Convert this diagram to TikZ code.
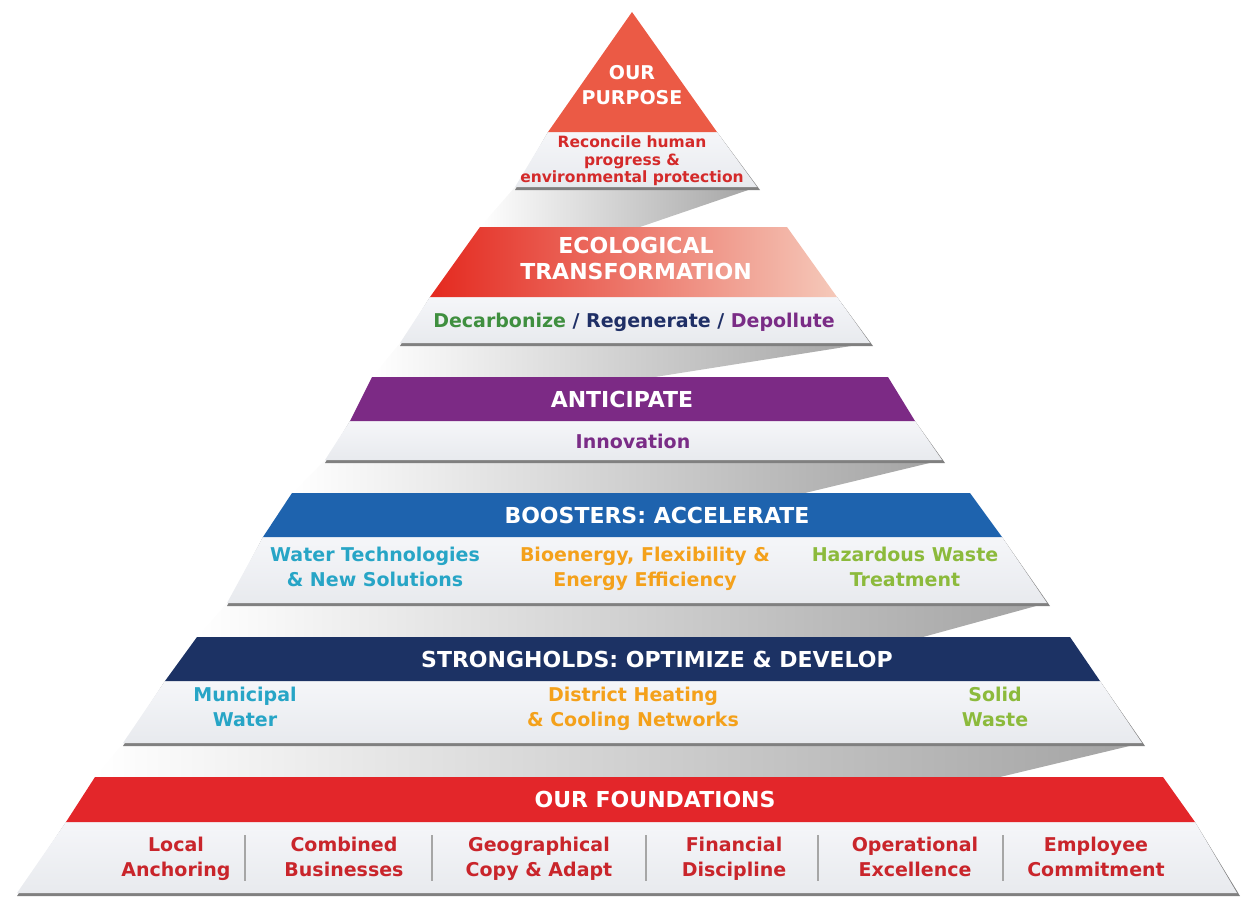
\documentclass[tikz,border=0pt]{standalone}
\usepackage{fontspec}
\setmainfont{DejaVu Sans}
\definecolor{purposered}{HTML}{EB5A45}
\definecolor{purposetext}{HTML}{D42A2A}
\definecolor{ecoleft}{HTML}{E4291F}
\definecolor{ecoright}{HTML}{F5C9BA}
\definecolor{anticipurple}{HTML}{7C2A85}
\definecolor{boostblue}{HTML}{1E63AE}
\definecolor{strongnavy}{HTML}{1C3264}
\definecolor{foundred}{HTML}{E3262A}
\definecolor{itemred}{HTML}{C9252B}
\definecolor{decgreen}{HTML}{3F8F3F}
\definecolor{regnavy}{HTML}{1F2F66}
\definecolor{deppurple}{HTML}{7A2C86}
\definecolor{watercyan}{HTML}{27A5C6}
\definecolor{energyorange}{HTML}{F4A11B}
\definecolor{wastegreen}{HTML}{8CBA3C}
\definecolor{platetop}{HTML}{F5F6F9}
\definecolor{platebot}{HTML}{E8EAEE}
\begin{document}
\begin{tikzpicture}[x=1pt,y=-1pt,
  plate/.style={top color=platetop,bottom color=platebot},
  shadow/.style={fill=black!50},
  ribbon/.style={left color=white,right color=black!36},
  sep/.style={draw=black!35,line width=1.2pt},
  head/.style={text=white,font=\bfseries\fontsize{22}{26}\selectfont,align=center,yshift=-3pt,
    execute at begin node=\strut,execute at end node=\strut},
  item/.style={text=#1,font=\bfseries\fontsize{19}{25}\selectfont,align=center,yshift=-3pt,
    execute at begin node=\strut,execute at end node=\strut}]
\useasboundingbox (0,0) rectangle (1242,899);
\shade[ribbon] (515,187)--(757,187)--(640,227)--(480,227)--cycle;
\shade[ribbon] (400,343)--(870,343)--(655,377)--(372,377)--cycle;
\shade[ribbon] (325,460)--(942,460)--(805,493)--(292,493)--cycle;
\shade[ribbon] (227,603)--(1047,603)--(923,637)--(197,637)--cycle;
\shade[ribbon] (123,743)--(1142,743)--(1000,777)--(95,777)--cycle;
\fill[shadow] (548,132)--(717,132)--(760,190)--(515,190)--cycle;
\shade[plate] (548,132)--(717,132)--(757,187)--(515,187)--cycle;
\fill[purposered] (632,12)--(717,132)--(548,132)--cycle;
\fill[shadow] (430,297)--(837,297)--(873,346)--(400,346)--cycle;
\shade[plate] (430,297)--(837,297)--(870,343)--(400,343)--cycle;
\shade[left color=ecoleft,right color=ecoright] (480,227)--(787,227)--(837,297)--(430,297)--cycle;
\fill[shadow] (350,421)--(915,421)--(945,463)--(325,463)--cycle;
\shade[plate] (350,421)--(915,421)--(942,460)--(325,460)--cycle;
\fill[anticipurple] (372,377)--(888,377)--(915,421)--(350,421)--cycle;
\fill[shadow] (263,537)--(1002,537)--(1050,606)--(227,606)--cycle;
\shade[plate] (263,537)--(1002,537)--(1047,603)--(227,603)--cycle;
\fill[boostblue] (292,493)--(970,493)--(1002,537)--(263,537)--cycle;
\fill[shadow] (165,681)--(1100,681)--(1145,746)--(123,746)--cycle;
\shade[plate] (165,681)--(1100,681)--(1142,743)--(123,743)--cycle;
\fill[strongnavy] (197,637)--(1070,637)--(1100,681)--(165,681)--cycle;
\fill[shadow] (66,822)--(1195,822)--(1240,896)--(17,896)--cycle;
\shade[plate] (66,822)--(1195,822)--(1237,893)--(17,893)--cycle;
\fill[foundred] (95,777)--(1163,777)--(1195,822)--(66,822)--cycle;
\node[head,font=\bfseries\fontsize{19}{25}\selectfont] (purposeTitle) at (632,86) {OUR\\PURPOSE};
\node[text=purposetext,font=\bfseries\fontsize{15.5}{17.5}\selectfont,align=center] (purposeText) at (632,161)
  {Reconcile human\\progress \&\\environmental protection};
\node[head] (ecoTitle) at (636,259) {ECOLOGICAL\\TRANSFORMATION};
\node[item=regnavy] (ecoText) at (634,319)
  {\textcolor{decgreen}{Decarbonize} / Regenerate / \textcolor{deppurple}{Depollute}};
\node[head] (anticipateTitle) at (622,399) {ANTICIPATE};
\node[item=deppurple] (innovText) at (633,440) {Innovation};
\node[head] (boostTitle) at (657,515) {BOOSTERS: ACCELERATE};
\node[item=watercyan] (waterTech) at (375,568) {Water Technologies\\\& New Solutions};
\node[item=energyorange] (bioEnergy) at (645,568) {Bioenergy, Flexibility \&\\Energy Efficiency};
\node[item=wastegreen] (hazWaste) at (905,568) {Hazardous Waste\\Treatment};
\node[head] (strongTitle) at (657,659) {STRONGHOLDS: OPTIMIZE \& DEVELOP};
\node[item=watercyan] (municipal) at (245,708) {Municipal\\Water};
\node[item=energyorange] (districtHeat) at (633,708) {District Heating\\\& Cooling Networks};
\node[item=wastegreen] (solidWaste) at (995,708) {Solid\\Waste};
\node[head] (foundTitle) at (655,799) {OUR FOUNDATIONS};
\node[item=itemred] (localAnch) at (176,858) {Local\\Anchoring};
\node[item=itemred] (combinedBus) at (344,858) {Combined\\Businesses};
\node[item=itemred] (geoCopy) at (539,858) {Geographical\\Copy \& Adapt};
\node[item=itemred] (finDisc) at (734,858) {Financial\\Discipline};
\node[item=itemred] (opExc) at (915,858) {Operational\\Excellence};
\node[item=itemred] (empCommit) at (1096,858) {Employee\\Commitment};
\foreach \sx in {245,432,646,818,1003}
  \draw[sep] (\sx,835) -- (\sx,881);
\end{tikzpicture}
\end{document}
